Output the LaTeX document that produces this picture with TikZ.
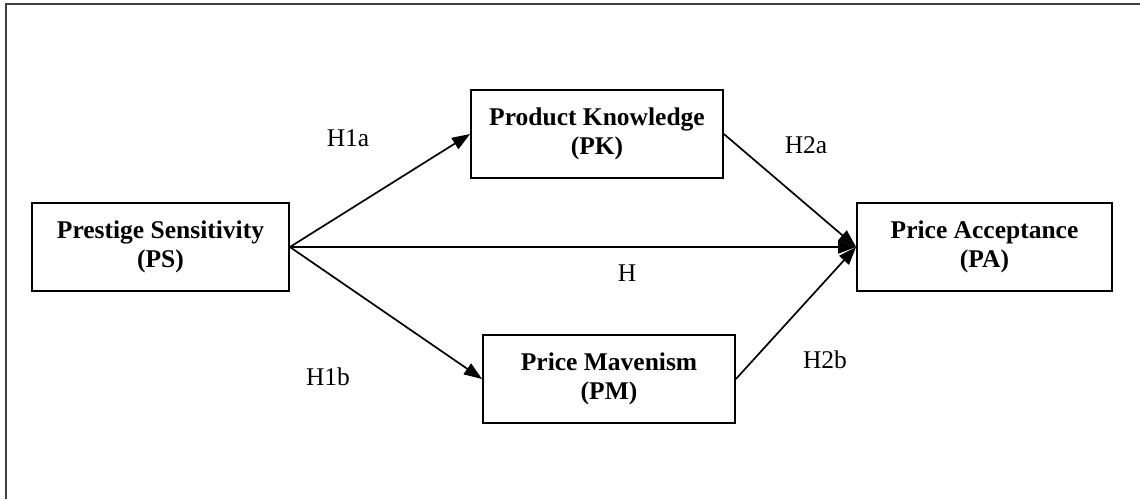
\documentclass[tikz,border=0pt]{standalone}
\usepackage{fontspec}
\setmainfont{Liberation Serif}
\usepackage{xcolor}
\usetikzlibrary{positioning,calc,arrows.meta}

\tikzset{
	construct/.style={draw, line width=1.8pt, align=center, inner sep=0pt, minimum height=88pt, font=\bfseries},
	path arrow/.style={line width=1.7pt, -{Triangle[length=18pt,width=13pt]}},
	hyp/.style={inner sep=0pt}
}

\begin{document}
\begin{tikzpicture}[x=1pt, y=-1pt]
		\fontsize{25.5}{29}\selectfont
		\useasboundingbox (0,0) rectangle (1140,499);
		\draw[line width=2pt, black!75] (1140,4) -- (6,4) -- (6,499);
		% constructs
		\node[name=ps, construct, minimum width=257pt] at (160.5,247) {Prestige Sensitivity\\(PS)};
		\node[name=pk, construct, minimum width=252pt] at (597,134) {Product Knowledge\\(PK)};
		\node[name=pm, construct, minimum width=252pt] at (609,379) {Price Mavenism\\(PM)};
		\node[name=pa, construct, minimum width=255pt] at (984.5,247) {Price Acceptance\\(PA)};
		% paths
		\draw[path arrow] (ps.east) -- (pk.west);
		\draw[path arrow] (ps.east) -- (pm.west);
		\draw[path arrow] (ps.east) -- (pa.west);
		\draw[path arrow] (pk.east) -- (pa.west);
		\draw[path arrow] (pm.east) -- (pa.west);
		% hypotheses
		\node[name=h1a, hyp] at (348,138) {H1a};
		\node[name=h1b, hyp] at (328,377) {H1b};
		\node[name=h, hyp] at (627,273) {H};
		\node[name=h2a, hyp] at (806,145) {H2a};
		\node[name=h2b, hyp] at (825,360) {H2b};
	\end{tikzpicture}
\end{document}
